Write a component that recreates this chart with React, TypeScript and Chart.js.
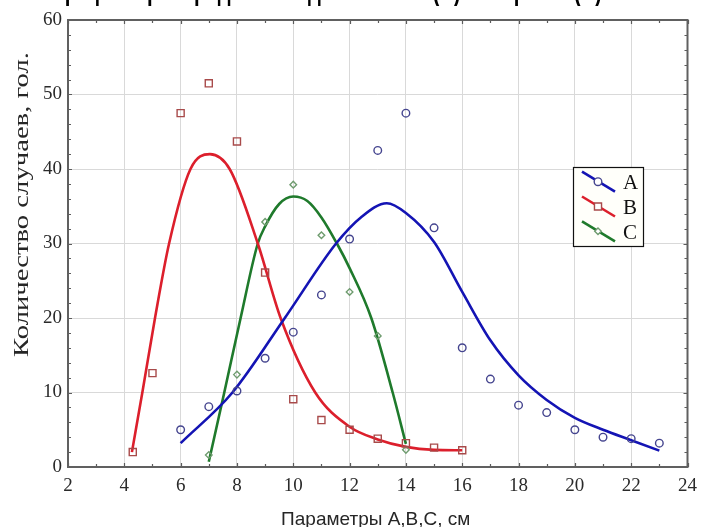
import { useEffect, useRef } from "react";
import { Chart, registerables } from "chart.js";

Chart.register(...registerables);

// ---- axes ----
const X_TICKS = [2, 4, 6, 8, 10, 12, 14, 16, 18, 20, 22, 24];
const Y_TICKS = [0, 10, 20, 30, 40, 50, 60];
const X_TITLE = "Параметры А,В,С, см";
const Y_TITLE = "Количество случаев, гол.";
const CHART_TITLE = "Графики распределения длины тела (А) и ширины (В)";

// ---- observed points ----
const A_X = [6, 7, 8, 9, 10, 11, 12, 13, 14, 15, 16, 17, 18, 19, 20, 21, 22, 23];
const A_Y = [5.0, 8.1, 10.2, 14.6, 18.1, 23.1, 30.6, 42.5, 47.5, 32.1, 16.0, 11.8, 8.3, 7.3, 5.0, 4.0, 3.8, 3.2];
const B_X = [4.3, 5, 6, 7, 8, 9, 10, 11, 12, 13, 14, 15, 16];
const B_Y = [2.0, 12.6, 47.5, 51.5, 43.7, 26.1, 9.1, 6.3, 5.0, 3.8, 3.2, 2.6, 2.25];
const C_X = [7, 8, 9, 10, 11, 12, 13, 14];
const C_Y = [1.6, 12.4, 32.9, 37.9, 31.1, 23.5, 17.6, 2.3];

// ---- fitted curves ----
const FIT_A_X = [6, 7.84, 9.7, 11.52, 12.4, 13.32, 14, 15, 16, 17, 18, 19, 20, 21, 22, 23];
const FIT_A_Y = [3.2, 10, 20, 30, 33.5, 35.4, 34.1, 30.2, 23.5, 17, 12.3, 9.0, 6.6, 5.0, 3.6, 2.2];
const FIT_B_X = [4.27, 4.64, 5.09, 5.59, 6.35, 7.04, 7.74, 8.74, 9.55, 10.78, 12, 13, 14, 15, 16];
const FIT_B_Y = [2, 10, 20, 30, 40, 42, 40, 30, 20, 10, 5.4, 3.7, 2.7, 2.3, 2.25];
const FIT_C_X = [7, 7.55, 8.13, 8.74, 9, 9.5, 10, 10.5, 11, 11.55, 12, 12.77, 13.53, 14];
const FIT_C_Y = [0.7, 10, 20, 30, 32.3, 35.3, 36.3, 35.7, 33.5, 30, 26.7, 20, 10, 3.1];

const LABELS = ["A", "B", "C"];
const LINE_COLORS = ["#1414b4", "#dc1f2c", "#1f7a2c"];
const MARK_COLORS = ["#45458f", "#a84a4a", "#6f9c6f"];
const MARK_STYLES = ["circle", "rect", "rectRot"];
const MARK_RADII = [3.8, 5, 3.3];

const zip = (xs: number[], ys: number[]) => xs.map((x, i) => ({ x, y: ys[i] }));

const SERIF = "'Liberation Serif', 'Times New Roman', serif";
const SANS = "'Liberation Sans', Arial, sans-serif";

function drawMarker(ctx: CanvasRenderingContext2D, style: string, x: number, y: number, r: number) {
  ctx.beginPath();
  if (style === "circle") {
    ctx.arc(x, y, r, 0, Math.PI * 2);
  } else if (style === "rect") {
    const s = r * Math.SQRT1_2;
    ctx.rect(x - s, y - s, 2 * s, 2 * s);
  } else {
    ctx.moveTo(x, y - r);
    ctx.lineTo(x + r, y);
    ctx.lineTo(x, y + r);
    ctx.lineTo(x - r, y);
    ctx.closePath();
  }
  ctx.fillStyle = "#ffffff";
  ctx.fill();
  ctx.stroke();
}

const framePlugin = {
  id: "frame",
  afterDatasetsDraw(chart: any) {
    const { ctx, chartArea } = chart;
    const xs = chart.scales.x;
    const ys = chart.scales.y;
    const { left, right, top, bottom } = chartArea;
    ctx.save();
    ctx.strokeStyle = "#5c5c5c";
    ctx.lineWidth = 1.2;
    ctx.beginPath();
    for (let v = xs.min; v <= xs.max + 1e-9; v += 1) {
      const px = Math.round(xs.getPixelForValue(v)) + 0.5;
      const len = v % 2 === 0 ? 4 : 3;
      ctx.moveTo(px, bottom);
      ctx.lineTo(px, bottom - len);
      ctx.moveTo(px, top);
      ctx.lineTo(px, top + len);
    }
    for (let v = ys.min; v <= ys.max + 1e-9; v += 2) {
      const py = Math.round(ys.getPixelForValue(v)) + 0.5;
      const len = v % 10 === 0 ? 4 : 3;
      ctx.moveTo(left, py);
      ctx.lineTo(left + len, py);
      ctx.moveTo(right, py);
      ctx.lineTo(right - len, py);
    }
    ctx.stroke();
    ctx.lineWidth = 2;
    ctx.strokeStyle = "#606060";
    ctx.strokeRect(left, top, right - left, bottom - top);
    ctx.restore();
  },
};

const textPlugin = {
  id: "texts",
  afterDraw(chart: any) {
    const { ctx, chartArea } = chart;
    ctx.save();
    // bold title, cut off by the top edge (only descenders remain visible)
    ctx.fillStyle = "#000";
    ctx.font = `bold 30px ${SANS}`;
    ctx.textAlign = "left";
    ctx.textBaseline = "alphabetic";
    ctx.fillText(CHART_TITLE, 54, -0.5, 548);

    // x-axis title
    ctx.fillStyle = "#262626";
    ctx.font = `19px ${SANS}`;
    ctx.textAlign = "center";
    ctx.fillText(X_TITLE, (chartArea.left + chartArea.right) / 2 - 2, 525);

    // y-axis title (stretched along its length)
    ctx.font = `21px ${SERIF}`;
    const w = ctx.measureText(Y_TITLE).width;
    ctx.translate(22, 204.5);
    ctx.rotate(-Math.PI / 2);
    ctx.scale(305 / w, 1);
    ctx.textAlign = "center";
    ctx.textBaseline = "middle";
    ctx.fillText(Y_TITLE, 0, 0);
    ctx.restore();
  },
};

const legendPlugin = {
  id: "customLegend",
  afterDraw(chart: any) {
    const { ctx } = chart;
    const left = 573;
    const top = 167;
    const width = 70;
    const height = 79;
    ctx.save();
    ctx.fillStyle = "#fffffa";
    ctx.fillRect(left, top, width, height);
    ctx.strokeStyle = "#111";
    ctx.lineWidth = 1.2;
    ctx.strokeRect(left + 0.5, top + 0.5, width, height);
    LABELS.forEach((label, i) => {
      const yc = top + 14.7 + i * 24.8;
      ctx.strokeStyle = LINE_COLORS[i];
      ctx.lineWidth = 2.6;
      ctx.beginPath();
      ctx.moveTo(left + 9, yc - 10);
      ctx.lineTo(left + 42, yc + 10);
      ctx.stroke();
      ctx.strokeStyle = MARK_COLORS[i];
      ctx.lineWidth = 1.4;
      drawMarker(ctx, MARK_STYLES[i], left + 25, yc, MARK_RADII[i]);
      ctx.fillStyle = "#111";
      ctx.font = `21px ${SERIF}`;
      ctx.textAlign = "left";
      ctx.textBaseline = "middle";
      ctx.fillText(label, left + 50, yc + 2);
    });
    ctx.restore();
  },
};

export default function App() {
  const ref = useRef<HTMLCanvasElement>(null);
  useEffect(() => {
    if (!ref.current) return;
    const fits = [zip(FIT_A_X, FIT_A_Y), zip(FIT_B_X, FIT_B_Y), zip(FIT_C_X, FIT_C_Y)];
    const pts = [zip(A_X, A_Y), zip(B_X, B_Y), zip(C_X, C_Y)];
    const datasets: any[] = [];
    LABELS.forEach((label, i) => {
      datasets.push({
        label: label + " fit",
        data: fits[i],
        borderColor: LINE_COLORS[i],
        borderWidth: 2.6,
        pointRadius: 0,
        fill: false,
        showLine: true,
        cubicInterpolationMode: "monotone",
        order: 2,
      });
    });
    LABELS.forEach((label, i) => {
      datasets.push({
        label,
        data: pts[i],
        showLine: false,
        pointStyle: MARK_STYLES[i],
        pointRadius: MARK_RADII[i],
        pointBorderColor: MARK_COLORS[i],
        pointBackgroundColor: "rgba(0,0,0,0)",
        pointBorderWidth: 1.4,
        borderColor: MARK_COLORS[i],
        order: 1,
      });
    });
    const chart = new Chart(ref.current, {
      type: "line",
      data: { datasets },
      options: {
        responsive: false,
        animation: false,
        devicePixelRatio: 1,
        layout: { padding: { top: 20, right: 8, left: 0, bottom: 0 } },
        plugins: {
          legend: { display: false },
          tooltip: { enabled: false },
          title: { display: false },
        },
        scales: {
          x: {
            type: "linear",
            min: 2,
            max: 24,
            afterBuildTicks: (s: any) => {
              s.ticks = X_TICKS.map((v) => ({ value: v }));
            },
            afterFit: (s: any) => {
              s.height = 60;
            },
            ticks: {
              font: { family: SERIF, size: 19 },
              color: "#2a2a2a",
              padding: 8,
              maxRotation: 0,
              autoSkip: false,
            },
            grid: { color: "#d9d9d9", lineWidth: 1, drawTicks: false },
            border: { display: false },
          },
          y: {
            type: "linear",
            min: 0,
            max: 60,
            afterBuildTicks: (s: any) => {
              s.ticks = Y_TICKS.map((v) => ({ value: v }));
            },
            afterFit: (s: any) => {
              s.width = 68;
            },
            ticks: {
              font: { family: SERIF, size: 19 },
              color: "#2a2a2a",
              padding: 6,
              autoSkip: false,
            },
            grid: { color: "#d9d9d9", lineWidth: 1, drawTicks: false },
            border: { display: false },
          },
        },
      } as any,
      plugins: [framePlugin, textPlugin, legendPlugin],
    });
    return () => chart.destroy();
  }, []);
  return (
    <div style={{ position: "fixed", left: 0, top: 0, width: 705, height: 527, background: "#fff" }}>
      <canvas ref={ref} width={705} height={527} style={{ display: "block" }} />
    </div>
  );
}
